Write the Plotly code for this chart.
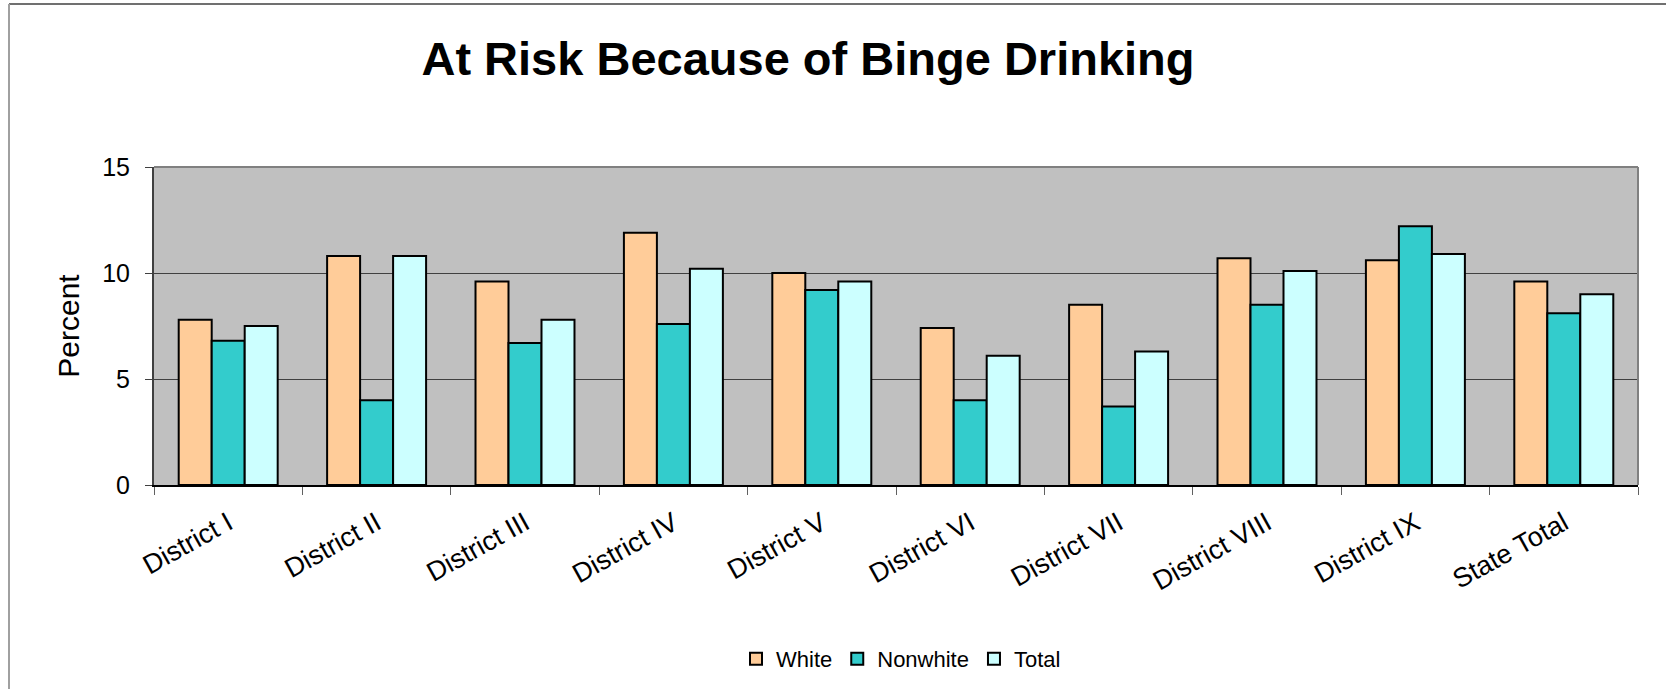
import plotly.graph_objects as go

# Données
districts = ['District I', 'District II', 'District III', 'District IV', 'District V',
             'District VI', 'District VII', 'District VIII', 'District IX', 'State Total']
white = [7.8, 10.8, 9.6, 11.9, 10.0, 7.4, 8.5, 10.7, 10.6, 9.6]
nonwhite = [6.8, 4.0, 6.7, 7.6, 9.2, 4.0, 3.7, 8.5, 12.2, 8.1]
total = [7.5, 10.8, 7.8, 10.2, 9.6, 6.1, 6.3, 10.1, 10.9, 9.0]

colors = {
    'white': '#FFCC99',
    'nonwhite': '#33CCCC',
    'total': '#CCFFFF',
    'plot_bg': '#C0C0C0',
}

FONT = 'Liberation Sans, Arial, sans-serif'

W, H = 1666, 689
L, R, T, B = 154, 28, 167, 204
pw, ph = W - L - R, H - T - B

fig = go.Figure()
for name, vals, col in [('White', white, colors['white']),
                        ('Nonwhite', nonwhite, colors['nonwhite']),
                        ('Total', total, colors['total'])]:
    fig.add_trace(go.Bar(
        x=districts, y=vals, name=name,
        marker=dict(color=col, line=dict(color='#000000', width=2)),
    ))

# conversion pixels -> coordonnées "paper"
def px_x(v):
    return (v - L) / pw

def px_y(v):
    return 1 - (v - T) / ph

# cadre extérieur (haut et gauche) + bords haut/droite de la zone de tracé
shapes = [
    dict(type='line', xref='paper', yref='paper', x0=px_x(9), x1=px_x(W), y0=px_y(4), y1=px_y(4),
         line=dict(color='#707070', width=2)),
    dict(type='line', xref='paper', yref='paper', x0=px_x(9), x1=px_x(9), y0=px_y(4), y1=px_y(H),
         line=dict(color='#A0A0A0', width=2)),
    dict(type='line', xref='paper', yref='paper', x0=0, x1=1, y0=1, y1=1,
         line=dict(color='#808080', width=2)),
    dict(type='line', xref='paper', yref='paper', x0=1, x1=1, y0=0, y1=1,
         line=dict(color='#808080', width=2)),
]

fig.update_layout(
    width=W, height=H,
    margin=dict(l=L, r=R, t=T, b=B, autoexpand=False),
    paper_bgcolor='white',
    plot_bgcolor=colors['plot_bg'],
    barmode='group',
    bargap=0.333,
    bargroupgap=0,
    font=dict(family=FONT, color='#000000', size=25),
    title=dict(text='<b>At Risk Because of Binge Drinking</b>',
               font=dict(family=FONT, size=47, color='#000000'),
               x=(808 - L) / pw, xref='paper', xanchor='center',
               y=1 - 59 / H, yanchor='middle'),
    showlegend=True,
    legend=dict(orientation='h', x=(901 - L) / pw, xanchor='center',
                y=px_y(659), yanchor='middle',
                font=dict(family=FONT, size=22), traceorder='normal'),
    shapes=shapes,
)

fig.update_xaxes(
    showline=True, linecolor='#000000', linewidth=2,
    ticks='outside', tickson='boundaries', ticklen=8, tickcolor='#606060', tickwidth=1,
    tickangle=-29, tickfont=dict(size=27), ticklabelstandoff=10,
    showgrid=False,
)
fig.update_yaxes(
    range=[0, 15], dtick=5, tick0=0,
    showline=True, linecolor='#404040', linewidth=2,
    ticks='outside', ticklen=7, tickcolor='#404040',
    showgrid=True, gridcolor='#404040', gridwidth=1,
    zeroline=False,
    tickfont=dict(size=25),
    ticklabelstandoff=10,
    title=dict(text='Percent', font=dict(size=30), standoff=14),
)

# pas de marge de page autour du graphique, pas de barre d'outils
fig.write_html("out.html", config={'displayModeBar': False},
               post_script="document.body.style.margin='0';")
